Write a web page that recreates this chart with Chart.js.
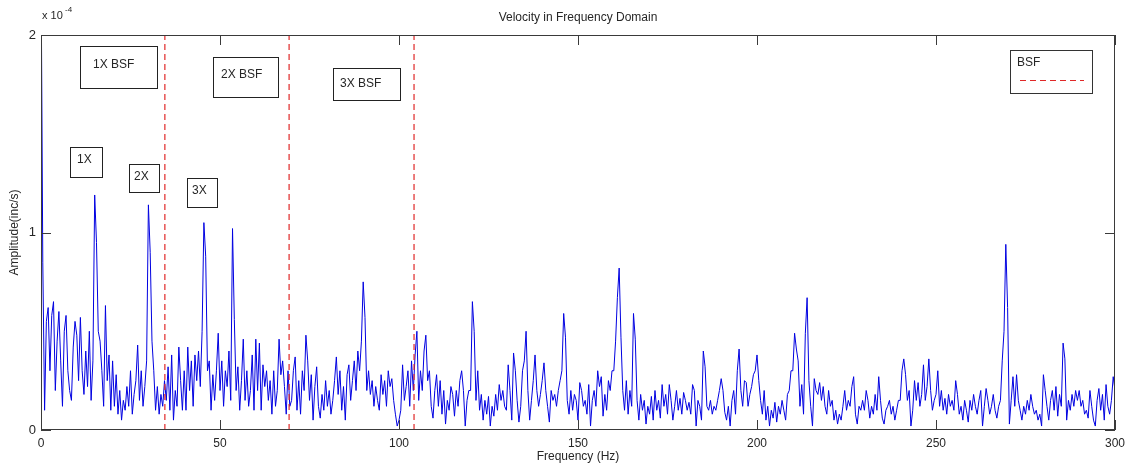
<!DOCTYPE html>
<html>
<head>
<meta charset="utf-8">
<script src="https://cdn.jsdelivr.net/npm/chart.js@4"></script>
<style>
  body { margin: 0; background: #fff; }
  #wrap { width: 1136px; height: 466px; }
</style>
</head>
<body>
<div id="wrap"><canvas id="specChart" width="1136" height="466"></canvas></div>
<script>
// spectrum, amplitude in units of 1e-4 inc/s, one value every 0.5 Hz
var freqStep = 0.5;
var amplitude = [
  2.4, 0.85, 0.1, 0.55, 0.62, 0.3, 0.58, 0.65, 0.2, 0.45, 0.6, 0.35, 0.12, 0.5, 0.58, 0.3, 0.2, 0.15, 0.42, 0.55,
  0.48, 0.25, 0.57, 0.3, 0.18, 0.4, 0.22, 0.5, 0.15, 0.35, 1.19, 0.95, 0.5, 0.45, 0.3, 0.12, 0.63, 0.25, 0.38, 0.1,
  0.35, 0.12, 0.28, 0.08, 0.2, 0.05, 0.15, 0.1, 0.22, 0.12, 0.3, 0.08, 0.18, 0.25, 0.43, 0.15, 0.3, 0.12, 0.22, 0.35,
  1.14, 0.9, 0.45, 0.3, 0.1, 0.22, 0.08, 0.18, 0.12, 0.25, 0.15, 0.32, 0.1, 0.38, 0.05, 0.2, 0.12, 0.42, 0.25, 0.1,
  0.3, 0.1, 0.42, 0.2, 0.35, 0.12, 0.38, 0.25, 0.4, 0.22, 0.5, 1.05, 0.88, 0.3, 0.35, 0.1, 0.28, 0.15, 0.3, 0.49,
  0.2, 0.35, 0.12, 0.3, 0.22, 0.4, 0.15, 1.02, 0.56, 0.2, 0.32, 0.1, 0.25, 0.46, 0.15, 0.3, 0.12, 0.2, 0.38, 0.1,
  0.46, 0.2, 0.44, 0.1, 0.33, 0.22, 0.3, 0.15, 0.25, 0.08, 0.3, 0.12, 0.2, 0.46, 0.28, 0.35, 0.22, 0.08, 0.3, 0.12,
  0.15, 0.3, 0.37, 0.1, 0.25, 0.08, 0.3, 0.2, 0.48, 0.35, 0.15, 0.28, 0.05, 0.22, 0.32, 0.12, 0.06, 0.18, 0.1, 0.25,
  0.12, 0.2, 0.08, 0.15, 0.25, 0.37, 0.18, 0.3, 0.1, 0.22, 0.05, 0.28, 0.33, 0.15, 0.25, 0.35, 0.2, 0.4, 0.3, 0.45,
  0.75, 0.57, 0.2, 0.3, 0.18, 0.25, 0.12, 0.22, 0.15, 0.1, 0.28, 0.18, 0.25, 0.12, 0.3, 0.22, 0.26, 0.15, 0.08, 0.02,
  0.05, 0.1, 0.33, 0.15, 0.22, 0.3, 0.12, 0.35, 0.2, 0.38, 0.5, 0.15, 0.3, 0.2, 0.4, 0.48, 0.25, 0.3, 0.12, 0.06,
  0.2, 0.28, 0.12, 0.25, 0.08, 0.2, 0.03, 0.15, 0.1, 0.22, 0.18, 0.07, 0.2, 0.12, 0.25, 0.3, 0.2, 0.02, 0.15, 0.2,
  0.2, 0.65, 0.5, 0.15, 0.3, 0.1, 0.18, 0.05, 0.15, 0.08, 0.17, 0.02, 0.12, 0.07, 0.18, 0.1, 0.23, 0.15, 0.2, 0.12,
  0.1, 0.33, 0.2, 0.05, 0.39, 0.3, 0.15, 0.04, 0.12, 0.3, 0.35, 0.5, 0.2, 0.05, 0.15, 0.25, 0.38, 0.2, 0.12, 0.18,
  0.25, 0.34, 0.2, 0.12, 0.04, 0.2, 0.15, 0.18, 0.12, 0.2, 0.25, 0.3, 0.59, 0.47, 0.15, 0.08, 0.2, 0.1, 0.18, 0.15,
  0.05, 0.24, 0.2, 0.12, 0.15, 0.08, 0.23, 0.02, 0.15, 0.2, 0.12, 0.3, 0.22, 0.27, 0.07, 0.18, 0.1, 0.25, 0.2, 0.3,
  0.3, 0.45, 0.67, 0.82, 0.47, 0.2, 0.1, 0.25, 0.08, 0.2, 0.12, 0.59, 0.46, 0.15, 0.05, 0.18, 0.1, 0.15, 0.03, 0.12,
  0.08, 0.17, 0.05, 0.2, 0.1, 0.15, 0.06, 0.23, 0.12, 0.18, 0.08, 0.23, 0.15, 0.05, 0.12, 0.2, 0.1, 0.16, 0.08, 0.19,
  0.15, 0.1, 0.14, 0.08, 0.23, 0.2, 0.02, 0.15, 0.12, 0.05, 0.4, 0.32, 0.12, 0.1, 0.15, 0.08, 0.12, 0.1, 0.15, 0.2,
  0.26, 0.2, 0.09, 0.05, 0.12, 0.02, 0.15, 0.2, 0.08, 0.3, 0.41, 0.2, 0.12, 0.25, 0.24, 0.12, 0.18, 0.22, 0.28, 0.3,
  0.38, 0.25, 0.15, 0.08, 0.2, 0.05, 0.12, 0.02, 0.1, 0.06, 0.14, 0.04, 0.12, 0.08, 0.15, 0.1, 0.05, 0.18, 0.2, 0.3,
  0.3, 0.49, 0.41, 0.35, 0.12, 0.23, 0.08, 0.49, 0.67, 0.25, 0.12, 0.02, 0.26, 0.2, 0.18, 0.24, 0.15, 0.22, 0.12, 0.08,
  0.2, 0.12, 0.15, 0.05, 0.1, 0.03, 0.08, 0.05, 0.12, 0.2, 0.1, 0.15, 0.12, 0.22, 0.27, 0.08, 0.03, 0.12, 0.1, 0.15,
  0.1, 0.2, 0.15, 0.06, 0.12, 0.08, 0.18, 0.1, 0.27, 0.15, 0.06, 0.03, 0.1, 0.12, 0.15, 0.08, 0.12, 0.05, 0.1, 0.15,
  0.15, 0.3, 0.36, 0.28, 0.15, 0.2, 0.02, 0.1, 0.25, 0.15, 0.24, 0.12, 0.18, 0.33, 0.15, 0.22, 0.36, 0.2, 0.1, 0.15,
  0.18, 0.3, 0.12, 0.2, 0.1, 0.16, 0.08, 0.18, 0.12, 0.15, 0.1, 0.25, 0.18, 0.08, 0.12, 0.05, 0.15, 0.1, 0.04, 0.15,
  0.1, 0.18, 0.12, 0.08, 0.15, 0.2, 0.02, 0.12, 0.21, 0.15, 0.08, 0.12, 0.18, 0.1, 0.06, 0.12, 0.15, 0.35, 0.5, 0.94,
  0.62, 0.03, 0.15, 0.27, 0.12, 0.28, 0.15, 0.1, 0.05, 0.12, 0.08, 0.15, 0.1, 0.18, 0.12, 0.08, 0.1, 0.05, 0.08, 0.02,
  0.28, 0.2, 0.12, 0.05, 0.15, 0.2, 0.1, 0.22, 0.07, 0.18, 0.12, 0.44, 0.36, 0.05, 0.15, 0.1, 0.18, 0.12, 0.2, 0.15,
  0.2, 0.12, 0.15, 0.08, 0.1, 0.06, 0.2, 0.12, 0.05, 0.02, 0.15, 0.21, 0.1, 0.18, 0.05, 0.23, 0.12, 0.08, 0.15, 0.27,
  0.2
];
// bearing spacing frequency lines (Hz)
var bsfFreqs = [34.6, 69.3, 104.2];
var xMax = 300, xStep = 50;
var yMax = 2, yStep = 1;

var fontFam = '"Liberation Sans", Arial, sans-serif';
var textCol = "#262626";
var bsfColor = "#e02828";

// text boxes put on the figure
var notes = [
  { text: "1X BSF", x: 80, y: 46, w: 77, h: 42, tx: 93, ty: 65 },
  { text: "2X BSF", x: 213, y: 57, w: 65, h: 40, tx: 221, ty: 75 },
  { text: "3X BSF", x: 333, y: 68, w: 67, h: 32, tx: 340, ty: 84 },
  { text: "1X", x: 70, y: 147, w: 32, h: 30, tx: 77, ty: 160 },
  { text: "2X", x: 129, y: 164, w: 30, h: 28, tx: 134, ty: 177 },
  { text: "3X", x: 187, y: 178, w: 30, h: 29, tx: 192, ty: 191 }
];

var spectrumPts = amplitude.map(function (v, i) { return { x: i * freqStep, y: v }; });

var datasets = bsfFreqs.map(function (f) {
  return {
    label: "BSF",
    data: [{ x: f, y: 0 }, { x: f, y: yMax }],
    borderColor: bsfColor,
    borderWidth: 1.2,
    borderDash: [6, 4],
    pointRadius: 0
  };
});
datasets.push({
  label: "Velocity",
  data: spectrumPts,
  borderColor: "rgb(0,0,225)",
  borderWidth: 1,
  pointRadius: 0,
  tension: 0
});

var matlabFrame = {
  id: "matlabFrame",
  afterDatasetsDraw: function (chart) {
    var ctx = chart.ctx, a = chart.chartArea;
    var xs = chart.scales.x, ys = chart.scales.y;
    ctx.save();
    ctx.strokeStyle = "#3a3a3a";
    ctx.lineWidth = 1;
    ctx.strokeRect(Math.round(a.left) + 0.5, Math.round(a.top) + 0.5,
      Math.round(a.right - a.left) - 1, Math.round(a.bottom - a.top) - 1);
    var tl = 10;
    ctx.beginPath();
    xs.ticks.forEach(function (t) {
      var px = Math.round(xs.getPixelForValue(t.value)) + 0.5;
      ctx.moveTo(px, a.bottom); ctx.lineTo(px, a.bottom - tl);
      ctx.moveTo(px, a.top); ctx.lineTo(px, a.top + tl);
    });
    ys.ticks.forEach(function (t) {
      var py = Math.round(ys.getPixelForValue(t.value)) + 0.5;
      ctx.moveTo(a.left, py); ctx.lineTo(a.left + tl, py);
      ctx.moveTo(a.right, py); ctx.lineTo(a.right - tl, py);
    });
    ctx.stroke();
    ctx.restore();
  },
  afterDraw: function (chart) {
    var ctx = chart.ctx, a = chart.chartArea;
    ctx.save();
    ctx.fillStyle = textCol;
    ctx.textBaseline = "middle";
    // title
    ctx.font = "12px " + fontFam;
    ctx.textAlign = "center";
    ctx.fillText("Velocity in Frequency Domain", (a.left + a.right) / 2, 18);
    // axis exponent
    ctx.font = "11px " + fontFam;
    ctx.textAlign = "left";
    ctx.fillText("x 10", a.left + 1, 16);
    ctx.font = "8px " + fontFam;
    ctx.fillText("-4", a.left + 24, 10);
    // annotation boxes
    ctx.font = "12px " + fontFam;
    notes.forEach(function (n) {
      ctx.fillStyle = "#fff";
      ctx.fillRect(n.x, n.y, n.w, n.h);
      ctx.strokeStyle = "#222";
      ctx.strokeRect(n.x + 0.5, n.y + 0.5, n.w, n.h);
      ctx.fillStyle = textCol;
      ctx.fillText(n.text, n.tx, n.ty);
    });
    // legend box
    ctx.font = "12px " + fontFam;
    ctx.fillStyle = "#fff";
    ctx.fillRect(1010, 50, 82, 43);
    ctx.strokeStyle = "#333";
    ctx.strokeRect(1010.5, 50.5, 82, 43);
    ctx.fillStyle = textCol;
    ctx.fillText("BSF", 1017, 63);
    ctx.strokeStyle = bsfColor;
    ctx.setLineDash([6, 4]);
    ctx.beginPath();
    ctx.moveTo(1020, 80.5); ctx.lineTo(1084, 80.5);
    ctx.stroke();
    ctx.restore();
  }
};

var ctx = document.getElementById("specChart").getContext("2d");
var myChart = new Chart(ctx, {
  type: "line",
  data: { datasets: datasets },
  options: {
    responsive: false,
    animation: false,
    layout: { padding: { left: 0, right: 21, top: 35, bottom: 0 } },
    plugins: { legend: { display: false }, tooltip: { enabled: false } },
    scales: {
      x: {
        type: "linear",
        min: 0,
        max: xMax,
        afterFit: function (s) { s.height = 36; },
        grid: { display: false, drawTicks: false },
        border: { display: false },
        ticks: { stepSize: xStep, padding: 6, color: textCol, font: { size: 12, family: fontFam } },
        title: { display: true, text: "Frequency (Hz)", color: textCol, padding: { top: 0, bottom: 2 }, font: { size: 12, family: fontFam } }
      },
      y: {
        min: 0,
        max: yMax,
        afterFit: function (s) { s.width = 41; },
        grid: { display: false, drawTicks: false },
        border: { display: false },
        ticks: { stepSize: yStep, padding: 5, color: textCol, font: { size: 13, family: fontFam } },
        title: { display: true, text: "Amplitude(inc/s)", color: textCol, padding: { top: 7, bottom: 0 }, font: { size: 12, family: fontFam } }
      }
    }
  },
  plugins: [matlabFrame]
});
</script>
</body>
</html>
